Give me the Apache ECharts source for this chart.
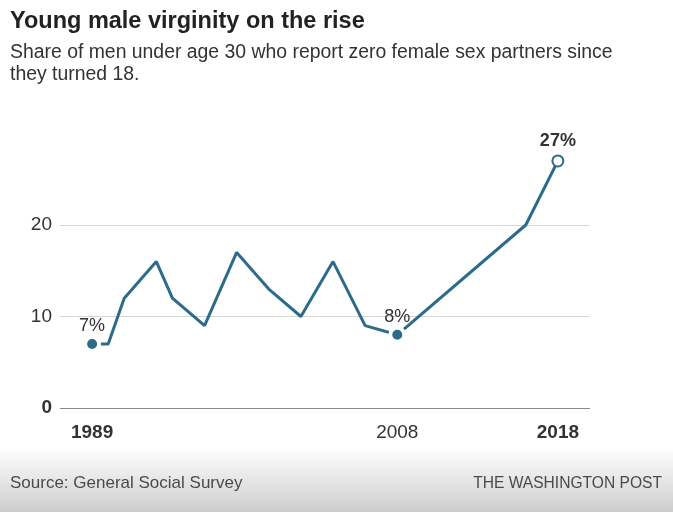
<!DOCTYPE html>
<html><head><meta charset="utf-8">
<script src="https://cdn.jsdelivr.net/npm/echarts@6/dist/echarts.min.js"></script>
<style>html,body{margin:0;padding:0;background:#fff}#c{width:673px;height:512px}</style>
</head><body><div id="c"></div>
<script>
const years = [1989, 1990, 1991, 1993, 1994, 1996, 1998, 2000, 2002, 2004, 2006, 2008, 2016, 2018];
const values = [7, 7, 12, 16, 12, 9, 17, 13, 10, 16, 9, 8, 20, 27];
const labeledYears = [1989, 2008, 2018];
const boldYears = [1989, 2018];
const yTicks = [0, 10, 20];

const FONT = '"Liberation Sans",Arial,sans-serif';
const BLUE = '#2d6b8b';

const data = years.map((y, i) => {
  const item = { value: [y, values[i]] };
  if (y === 1989 || y === 2008) {
    item.symbol = 'circle'; item.symbolSize = 14;
    item.itemStyle = { color: BLUE, borderColor: '#fff', borderWidth: 4 };
    item.label = { show: true, position: 'top', distance: 0, formatter: values[i] + '%', fontWeight: 'normal' };
  } else if (y === 2018) {
    item.symbol = 'circle'; item.symbolSize = 11;
    item.itemStyle = { color: '#fff', borderColor: BLUE, borderWidth: 2 };
    item.label = { show: true, position: 'top', distance: 4, formatter: values[i] + '%', fontWeight: 'bold' };
  } else {
    item.symbol = 'none';
  }
  return item;
});

const chart = echarts.init(document.getElementById('c'), null, { renderer: 'canvas' });
chart.setOption({
  animation: false,
  backgroundColor: '#fff',
  textStyle: { fontFamily: FONT },
  graphic: [
    { type: 'rect', left: 0, top: 448, shape: { width: 673, height: 64 }, silent: true,
      style: { fill: new echarts.graphic.LinearGradient(0, 0, 0, 1, [
        { offset: 0, color: '#ffffff' }, { offset: 1, color: '#cdcdcd' }]) } },
    { type: 'text', left: 10, top: 10, style: { text: 'Young male virginity on the rise', font: 'bold 23.5px ' + FONT, fill: '#222' } },
    { type: 'text', left: 10, top: 42, style: { text: 'Share of men under age 30 who report zero female sex partners since\nthey turned 18.', font: '19.4px ' + FONT, fill: '#333', lineHeight: 22 } },
    { type: 'text', left: 10, top: 475, style: { text: 'Source: General Social Survey', font: '17px ' + FONT, fill: '#4a4a4a' } },
    { type: 'text', right: 11, top: 476, style: { text: 'THE WASHINGTON POST', font: '15.6px ' + FONT, fill: '#4a4a4a' } }
  ],
  grid: { left: 60, right: 83, top: 133.5, bottom: 104, containLabel: false },
  xAxis: {
    type: 'value', min: 1987, max: 2020,
    axisLine: { show: false },
    axisTick: { show: false },
    splitLine: { show: false },
    axisLabel: {
      customValues: labeledYears,
      margin: 15,
      fontSize: 19, color: '#333', fontFamily: FONT,
      formatter: v => boldYears.includes(v) ? '{b|' + v + '}' : String(v),
      rich: { b: { fontWeight: 'bold', fontSize: 19, color: '#333', fontFamily: FONT } }
    }
  },
  yAxis: {
    type: 'value', min: 0, max: 30, interval: 10,
    axisLine: { show: false }, axisTick: { show: false },
    axisLabel: {
      margin: 8, fontSize: 19, color: '#333', fontFamily: FONT,
      formatter: v => yTicks.includes(v) ? (v === 0 ? '{b|0}' : String(v)) : '',
      rich: { b: { fontWeight: 'bold', fontSize: 19, color: '#333', fontFamily: FONT } }
    },
    splitLine: { show: true, lineStyle: { color: ['#8a8a8a', '#d6d6d6', '#d6d6d6', 'rgba(0,0,0,0)'], width: 1 } }
  },
  series: [{
    type: 'line', data: data,
    lineStyle: { color: BLUE, width: 3 },
    itemStyle: { color: BLUE },
    label: { color: '#333', fontSize: 18, fontFamily: FONT },
    z: 3
  }]
});
</script></body></html>
